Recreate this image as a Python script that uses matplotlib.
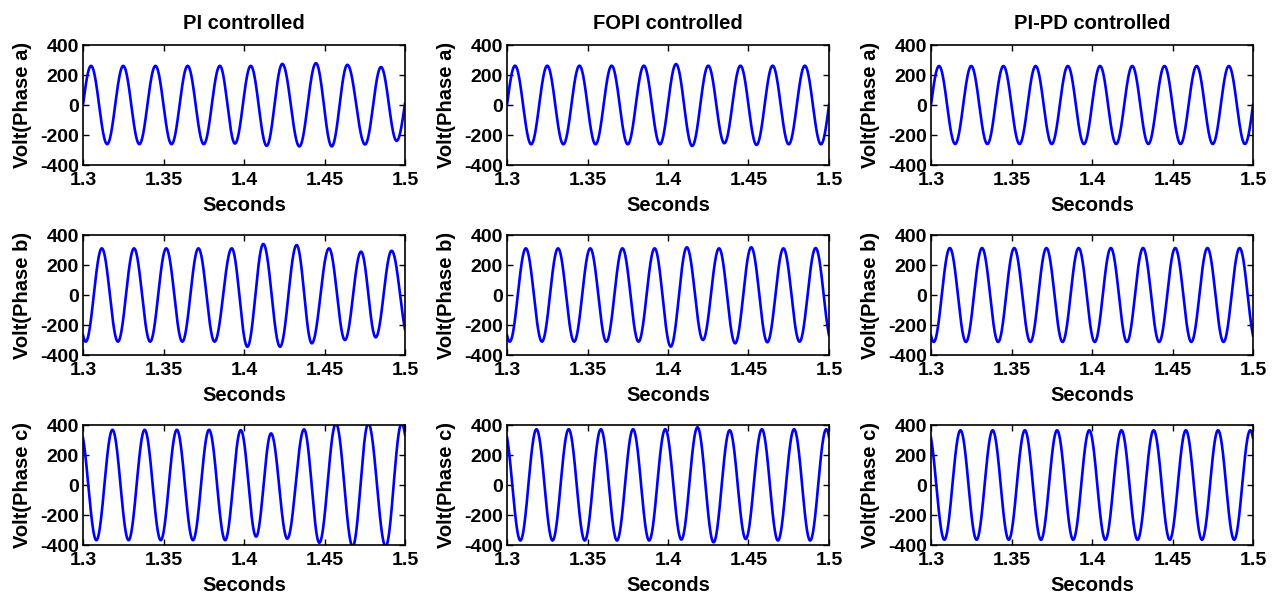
import numpy as np
import matplotlib
matplotlib.use('Agg')
import matplotlib.pyplot as plt

plt.rcParams['font.family'] = ['Liberation Sans', 'DejaVu Sans']
plt.rcParams['font.weight'] = 'bold'
plt.rcParams['axes.unicode_minus'] = False

controllers = ['PI controlled', 'FOPI controlled', 'PI-PD controlled']
phases = ['Volt(Phase a)', 'Volt(Phase b)', 'Volt(Phase c)']

# turning points of each phase voltage (seconds, volts)
t_a = [1.295, 1.305, 1.315, 1.325, 1.335, 1.345, 1.355, 1.365, 1.375, 1.385, 1.395,
       1.405, 1.415, 1.425, 1.435, 1.445, 1.455, 1.465, 1.475, 1.485, 1.495, 1.505]
t_b = [1.2917, 1.3017, 1.3117, 1.3217, 1.3317, 1.3417, 1.3517, 1.3617, 1.3717, 1.3817, 1.3917,
       1.4017, 1.4117, 1.4217, 1.4317, 1.4417, 1.4517, 1.4617, 1.4717, 1.4817, 1.4917, 1.5017]
t_c = [1.2983, 1.3083, 1.3183, 1.3283, 1.3383, 1.3483, 1.3583, 1.3683, 1.3783, 1.3883, 1.3983,
       1.4083, 1.4183, 1.4283, 1.4383, 1.4483, 1.4583, 1.4683, 1.4783, 1.4883, 1.4983, 1.5083]

# PI controller
pi_t_a = [1.295, 1.305, 1.315, 1.325, 1.335, 1.345, 1.355, 1.365, 1.375, 1.385, 1.3944,
          1.4042, 1.4141, 1.4238, 1.4344, 1.4447, 1.4545, 1.4642, 1.4752, 1.4851, 1.4948, 1.505]
pi_v_a = [-261, 261, -261, 261, -261, 261, -261, 261, -261, 261, -257,
          261, -272, 274, -276, 279, -276, 268, -263, 253, -239, 245]
pi_t_b = [1.2917, 1.3017, 1.3117, 1.3217, 1.3317, 1.3417, 1.3517, 1.3617, 1.3717, 1.3817, 1.3924,
          1.4021, 1.4120, 1.4224, 1.4327, 1.4421, 1.4528, 1.4627, 1.4727, 1.4818, 1.4917, 1.5022]
pi_v_b = [311, -311, 311, -311, 311, -311, 311, -311, 311, -311, 311,
          -345, 340, -345, 333, -322, 311, -300, 289, -282, 295, -290]
pi_t_c = [1.2983, 1.3083, 1.3183, 1.3283, 1.3383, 1.3483, 1.3583, 1.3683, 1.3783, 1.3883, 1.3980,
          1.4075, 1.4168, 1.4269, 1.4373, 1.4468, 1.4571, 1.4675, 1.4772, 1.4880, 1.4979, 1.5080]
pi_v_c = [365, -368, 368, -368, 368, -368, 368, -368, 368, -368, 366,
          -344, 344, -358, 371, -385, 410, -410, 410, -410, 410, -300]

# FOPI controller
fopi_v_a = [-262, 262, -262, 262, -262, 262, -262, 262, -262, 262, -262,
            273, -273, 262, -255, 262, -266, 262, -262, 262, -262, 262]
fopi_v_b = [311, -311, 311, -311, 311, -311, 311, -311, 311, -311, 311,
            -344, 318, -300, 311, -322, 318, -315, 311, -311, 313, -311]
fopi_v_c = [370, -370, 372, -370, 372, -370, 372, -370, 372, -370, 372,
            -364, 385, -382, 365, -360, 372, -370, 372, -370, 372, -370]

# PI-PD controller
pipd_v_a = [-260, 260, -260, 260, -260, 260, -260, 260, -260, 260, -260,
            260, -260, 260, -260, 260, -260, 260, -260, 260, -260, 260]
pipd_v_b = [313, -313, 313, -313, 313, -313, 313, -313, 313, -313, 313,
            -313, 313, -313, 313, -313, 313, -313, 313, -313, 313, -313]
pipd_v_c = [365, -365, 365, -365, 365, -365, 365, -365, 365, -365, 365,
            -365, 365, -365, 365, -365, 365, -365, 365, -365, 365, -365]

panels = [
    [(pi_t_a, pi_v_a), (t_a, fopi_v_a), (t_a, pipd_v_a)],
    [(pi_t_b, pi_v_b), (t_b, fopi_v_b), (t_b, pipd_v_b)],
    [(pi_t_c, pi_v_c), (t_c, fopi_v_c), (t_c, pipd_v_c)],
]


def waveform(knots_t, knots_v, t):
    # half-cosine swing between consecutive turning points
    kt = np.asarray(knots_t)
    kv = np.asarray(knots_v, dtype=float)
    i = np.clip(np.searchsorted(kt, t) - 1, 0, len(kt) - 2)
    s = (t - kt[i]) / (kt[i + 1] - kt[i])
    return kv[i] + (kv[i + 1] - kv[i]) * (1 - np.cos(np.pi * s)) / 2


W, H = 1278, 594
fig = plt.figure(figsize=(W / 100, H / 100), dpi=100)

lefts = [83, 507, 931]
tops = [45, 235, 425]
aw, ah = 322, 120

t = np.linspace(1.3, 1.5, 3000)
for r in range(3):
    for c in range(3):
        ax = fig.add_axes([lefts[c] / W, 1 - (tops[r] + ah) / H, aw / W, ah / H])
        kt, kv = panels[r][c]
        ax.plot(t, waveform(kt, kv, t), color=(0, 0, 1), lw=1.9)
        ax.set_xlim(1.3, 1.5)
        ax.set_ylim(-400, 400)
        ax.set_xticks([1.3, 1.35, 1.4, 1.45, 1.5])
        ax.set_xticklabels(['1.3', '1.35', '1.4', '1.45', '1.5'])
        ax.set_yticks([-400, -200, 0, 200, 400])
        ax.tick_params(direction='in', top=True, right=True, length=4,
                       width=1, labelsize=14)
        ax.tick_params(axis='x', pad=5)
        ax.tick_params(axis='y', pad=3)
        for sp in ax.spines.values():
            sp.set_linewidth(1.2)
        ax.set_xlabel('Seconds', fontsize=14.5, fontweight='bold', labelpad=5)
        ax.set_ylabel(phases[r], fontsize=14.5, fontweight='bold', labelpad=5.5)
        if r == 0:
            ax.set_title(controllers[c], fontsize=14.5, fontweight='bold', pad=11.5)

fig.savefig('out.png', dpi=100)
